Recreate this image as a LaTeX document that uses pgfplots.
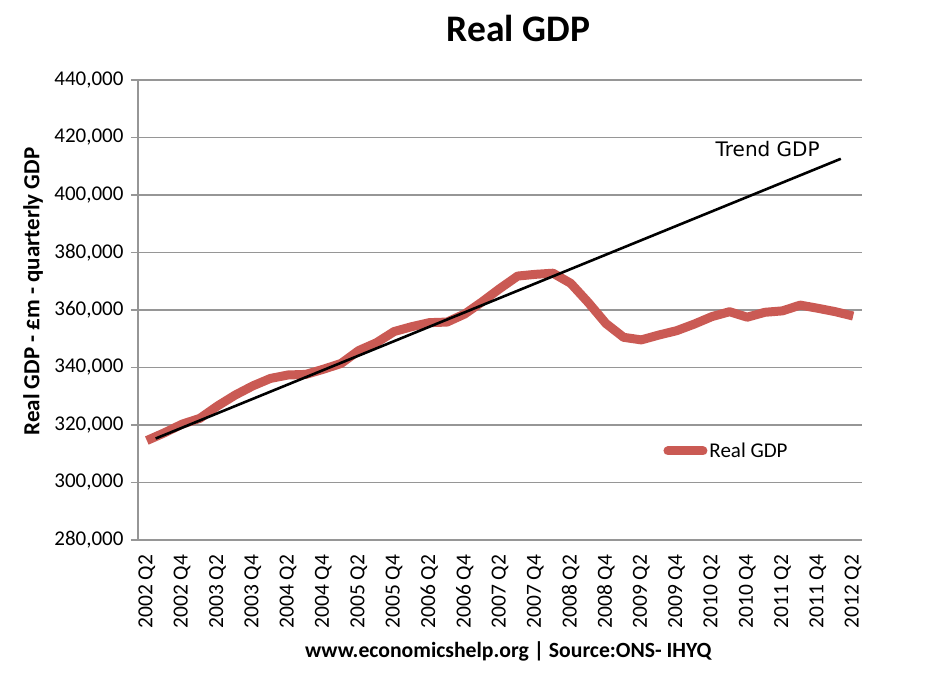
\documentclass[border=0pt]{standalone}
\usepackage{pgfplots}
\pgfplotsset{compat=1.18}
\usepackage{fontspec}
\setmainfont{Carlito}
\newfontfamily\trendfont{DejaVu Sans}

\definecolor{gdpred}{RGB}{202,90,84}
\definecolor{gridgray}{RGB}{150,150,150}

\begin{document}
\begin{tikzpicture}
\begin{axis}[
  scale only axis,
  width=724pt, height=460pt,
  xmin=-0.5, xmax=40.5,
  ymin=280000, ymax=440000,
  ytick distance=20000,
  scaled y ticks=false,
  /pgf/number format/.cd, fixed, 1000 sep={,}, assume math mode=true,
  /pgfplots/.cd,
  xtick={0,2,...,40},
  xticklabels={2002 Q2,2002 Q4,2003 Q2,2003 Q4,2004 Q2,2004 Q4,2005 Q2,2005 Q4,2006 Q2,2006 Q4,2007 Q2,2007 Q4,2008 Q2,2008 Q4,2009 Q2,2009 Q4,2010 Q2,2010 Q4,2011 Q2,2011 Q4,2012 Q2},
  axis x line*=bottom, axis y line*=left,
  axis line style={-, draw=gridgray, line width=1.2pt},
  tick align=outside,
  major tick length=7pt,
  xtick style={draw=none},
  ytick style={draw=gridgray, line width=1.2pt},
  ymajorgrids,
  grid style={draw=gridgray, line width=1.2pt},
  tick label style={font=\fontsize{21}{25}\selectfont},
  yticklabel style={xshift=-4pt},
  xticklabel style={rotate=90, anchor=east, inner sep=7.5pt, font=\fontsize{21.5}{25}\selectfont},
  title={\bfseries Real GDP},
  title style={font=\fontsize{37.5}{42}\selectfont, at={(axis description cs:0.5255,1)}, anchor=base, yshift=32pt},
  ylabel={\bfseries Real GDP - £m - quarterly GDP},
  ylabel style={font=\fontsize{23}{27}\selectfont, at={(axis description cs:-0.145,0.54)}, anchor=center},
  xlabel={\bfseries www.economicshelp.org | Source:ONS- IHYQ},
  xlabel style={font=\fontsize{21.7}{26}\selectfont, at={(axis description cs:0.5115,0)}, anchor=base, yshift=-117pt},
  legend style={at={(axis description cs:0.7255,0.1935)}, anchor=west, draw=none, fill=none,
    inner sep=0pt, font=\fontsize{21}{25}\selectfont, nodes={inner sep=2pt}},
  legend image code/.code={\draw[#1, line cap=round] (0pt,0pt) -- (35pt,0pt);},
]
\addplot[gdpred, line width=9pt, line join=round] coordinates {
  (0,314600) (1,317300) (2,320300) (3,322300) (4,326600) (5,330400)
  (6,333600) (7,336200) (8,337400) (9,337600) (10,339400) (11,341400)
  (12,345900) (13,348600) (14,352500) (15,354200) (16,355600) (17,355800)
  (18,358600) (19,362900) (20,367500) (21,371800) (22,372400) (23,372800)
  (24,369300) (25,362600) (26,355300) (27,350500) (28,349600) (29,351300)
  (30,352800) (31,355100) (32,357700) (33,359400) (34,357500) (35,359200)
  (36,359700) (37,361700) (38,360600) (39,359400) (40,357900)
};
\addlegendentry{Real GDP}
\addplot[black, line width=2.6pt, forget plot] coordinates {
  (0.5,315300) (39.3,412600)
};
\node[anchor=west, font=\trendfont\fontsize{20}{24}\selectfont, inner sep=0pt]
  at (axis cs:32.2,416000) {Trend GDP};
\end{axis}
\pgfresetboundingbox
\path[use as bounding box] (-138pt,-137pt) rectangle (793pt,540pt);
\end{tikzpicture}
\end{document}
